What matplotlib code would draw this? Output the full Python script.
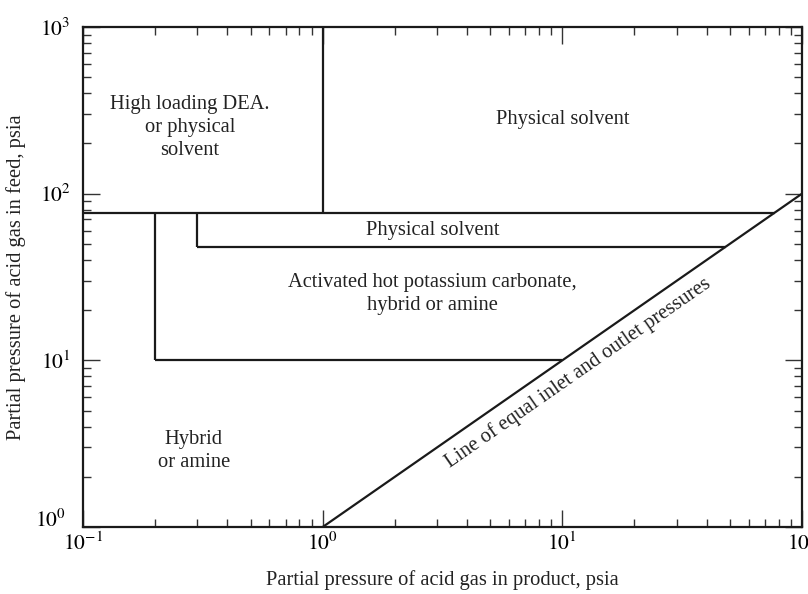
import matplotlib
matplotlib.use("Agg")
import matplotlib.pyplot as plt
import matplotlib.transforms as mtransforms
import numpy as np

plt.rcParams['font.family'] = ['Liberation Serif', 'DejaVu Serif']
plt.rcParams['mathtext.fontset'] = 'stix'

# boundary lines (x values, y values)
v_dea_x = [1, 1]; v_dea_y = [77, 1000]
h_top_x = [0.1, 77]; h_top_y = [77, 77]
v_mid_x = [0.3, 0.3]; v_mid_y = [48, 77]
h_mid_x = [0.3, 48]; h_mid_y = [48, 48]
v_low_x = [0.2, 0.2]; v_low_y = [10, 77]
h_low_x = [0.2, 10]; h_low_y = [10, 10]
diag_x = [1, 100]; diag_y = [1, 100]

labels = [
    ("High loading DEA.\nor physical\nsolvent", 0.28, 250),
    ("Physical solvent", 10.0, 280),
    ("Physical solvent", 2.87, 60),
    ("Activated hot potassium carbonate,\nhybrid or amine", 2.87, 25),
    ("Hybrid\nor amine", 0.29, 2.86),
]
diag_label = ("Line of equal inlet and outlet pressures", 11.6, 8.4)

FS = 14.8
fig = plt.figure(figsize=(8.08, 5.94), dpi=100)
ax = fig.add_axes([83/808, 67/594, 719/808, 500/594])
ax.set_xscale('log'); ax.set_yscale('log')
ax.set_xlim(0.1, 100); ax.set_ylim(1, 1000)

lw = 1.6
for xs, ys in [(v_dea_x, v_dea_y), (h_top_x, h_top_y), (v_mid_x, v_mid_y),
               (h_mid_x, h_mid_y), (v_low_x, v_low_y), (h_low_x, h_low_y),
               (diag_x, diag_y)]:
    ax.plot(xs, ys, color='#1a1a1a', lw=lw, solid_capstyle='butt', clip_on=False)

for t, x, y in labels:
    ax.text(x, y, t, ha='center', va='center', fontsize=FS, color='#222222',
            linespacing=1.3)

# rotation of diagonal in display space
fig.canvas.draw()
p1 = ax.transData.transform((1, 1)); p2 = ax.transData.transform((100, 100))
ang = np.degrees(np.arctan2(p2[1]-p1[1], p2[0]-p1[0]))
ax.text(diag_label[1], diag_label[2], diag_label[0], rotation=ang,
        rotation_mode='anchor', ha='center', va='center', fontsize=FS,
        color='#222222')

for s in ax.spines.values():
    s.set_linewidth(1.6); s.set_color('#1a1a1a')
ax.tick_params(which='both', direction='in', top=True, right=True,
               color='#333333', width=1.0)
ax.tick_params(which='major', length=12, labelsize=15.5)
ax.tick_params(axis='x', which='major', pad=4)
ax.tick_params(axis='y', which='major', pad=9)
ax.tick_params(which='minor', length=6)
ax.set_xticks([0.1, 1, 10, 100])
ax.set_xticklabels([r'$10^{-1}$', r'$10^{0}$', r'$10^{1}$', r'$10^{2}$'])
ax.set_yticks([1, 10, 100, 1000])
ax.set_yticklabels([r'$10^{0}$', r'$10^{1}$', r'$10^{2}$', r'$10^{3}$'])

ax.set_xlabel("Partial pressure of acid gas in product, psia", fontsize=FS,
              color='#222222', labelpad=11)
ax.set_ylabel("Partial pressure of acid gas in feed, psia", fontsize=FS,
              color='#222222', labelpad=7)

fig.canvas.draw()
lab0 = ax.yaxis.get_major_ticks()[0].label1
lab0.set_transform(lab0.get_transform() +
                   mtransforms.ScaledTranslation(-3/72, 6/72, fig.dpi_scale_trans))

fig.savefig("out.png", dpi=100)
